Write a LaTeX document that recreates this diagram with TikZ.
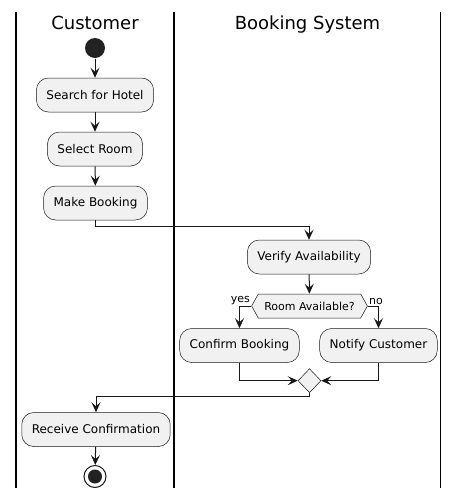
\documentclass[tikz,border=0pt]{standalone}
\usepackage{fontspec}
\setmainfont{DejaVu Sans}
\usetikzlibrary{arrows.meta}
\usetikzlibrary{shapes.geometric}
\usetikzlibrary{shapes.symbols}
\definecolor{fill1}{RGB}{241, 241, 241}
\definecolor{line1}{RGB}{24, 24, 24}
\definecolor{dot1}{RGB}{34, 34, 34}

\begin{document}
\begin{tikzpicture}[x=1pt, y=-1pt, line width=1pt,
  act/.style={rectangle, rounded corners=12pt, draw=line1, line width=0.5pt, fill=fill1, inner xsep=10pt, inner ysep=0pt, minimum height=34pt, font=\fontsize{12}{14}\selectfont},
  cond/.style={signal, signal to=west and east, signal pointer angle=122, draw=line1, line width=0.5pt, fill=fill1, inner xsep=6pt, inner ysep=0pt, minimum height=24pt, font=\fontsize{11}{13}\selectfont},
  merge/.style={diamond, draw=line1, line width=0.5pt, fill=fill1, inner sep=0pt, minimum width=23pt, minimum height=24pt},
  lane/.style={line width=1.5pt, black},
  title/.style={anchor=base, font=\fontsize{18}{20}\selectfont},
  flow/.style={draw=line1, -{Stealth[length=10pt, width=9pt, inset=4pt]}},
  guard/.style={inner sep=1pt, font=\fontsize{11}{13}\selectfont}]
  \useasboundingbox (0,0) rectangle (460,499);
  \foreach \x in {16, 174, 440.7}
   \draw[lane] (\x,12) -- (\x,488);
  \node[title] (t1) at (95,29) {Customer};
  \node[title] (t2) at (307.5,29) {Booking System};
  \node[circle, fill=dot1, minimum size=20pt, inner sep=0pt] (n0) at (95,48) {};
  \node[act] (n1) at (95,95) {Search for Hotel};
  \node[act] (n2) at (95,149) {Select Room};
  \node[act] (n3) at (95.5,203) {Make Booking};
  \node[act] (n4) at (309,257) {Verify Availability};
  \node[cond] (n5) at (309.5,306) {Room Available?};
  \node[act] (n6) at (239.5,345.5) {Confirm Booking};
  \node[act] (n7) at (378.5,345.5) {Notify Customer};
  \node[merge] (n8) at (309.5,380.7) {};
  \node[act] (n9) at (96,429.5) {Receive Confirmation};
  \node[circle, draw=line1, fill=white, minimum size=22pt, inner sep=0pt] (n10) at (95,476.5) {};
  \fill[dot1] (n10) circle (7pt);
  \foreach \from/\to in {n0/n1, n1/n2, n2/n3, n4/n5, n9/n10}
   \draw[flow] (\from) -- (\to);
  \draw[flow] (n3.south) -- ++(0,6) -| (n4.north);
  \draw[flow] (n5.west) -| (n6.north);
  \draw[flow] (n5.east) -| (n7.north);
  \draw[flow] (n6.south) |- (n8.west);
  \draw[flow] (n7.south) |- (n8.east);
  \draw[flow] (n8.south) -- ++(0,4) -| (n9.north);
  \node[guard, anchor=south east] (g1) at (n5.west) {yes};
  \node[guard, anchor=south west] (g2) at (n5.east) {no};
\end{tikzpicture}
\end{document}
